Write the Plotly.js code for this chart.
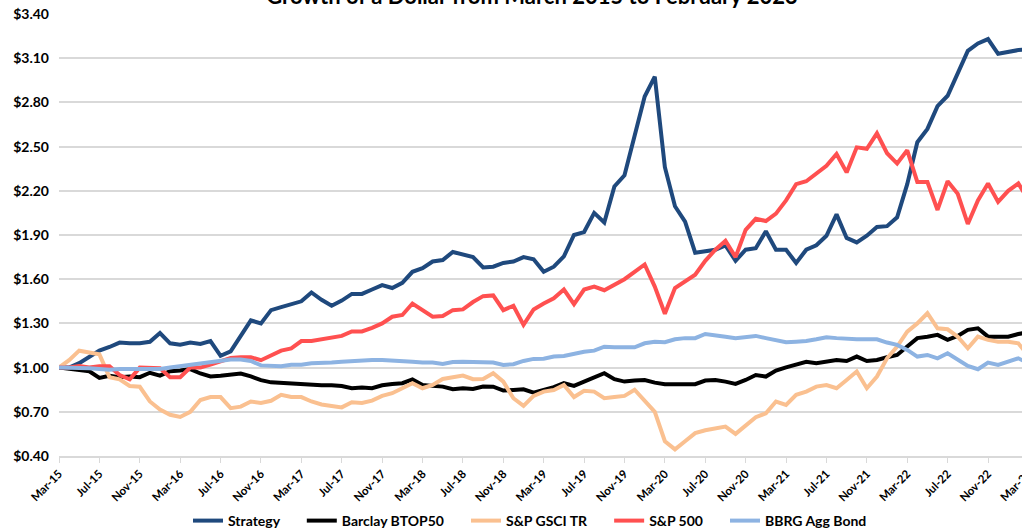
<!DOCTYPE html>
<html>
<head>
<meta charset="utf-8">
<script src="https://cdn.plot.ly/plotly-3.0.1.min.js"></script>
<style>
  html, body { margin: 0; padding: 0; overflow: hidden; background: #fff; }
  #chart { width: 1060px; height: 532px; }
</style>
</head>
<body>
<div id="chart"></div>
<script>
// ---- Categories (monthly, Mar-15 .. Mar-23) ----
const monthNames = ['Jan','Feb','Mar','Apr','May','Jun','Jul','Aug','Sep','Oct','Nov','Dec'];
const months = [];
for (let k = 0; k < 97; k++) {
  const m = (2 + k) % 12;
  const y = 15 + Math.floor((2 + k) / 12);
  months.push(monthNames[m] + '-' + y);
}
const tickLabels = months.filter((_, i) => i % 4 === 0);

// ---- Series values (growth of $1) ----
const strategy = [
  1.00,1.00,1.03,1.075,1.115,1.14,1.17,1.165,1.165,1.175,1.235,1.165,1.155,1.17,1.16,1.18,
  1.08,1.11,1.22,1.32,1.30,1.39,1.41,1.43,1.45,1.51,1.46,1.42,1.455,1.50,1.50,1.53,
  1.56,1.54,1.575,1.65,1.675,1.72,1.73,1.785,1.765,1.75,1.68,1.685,1.71,1.72,1.75,1.735,
  1.65,1.685,1.755,1.90,1.92,2.05,1.985,2.23,2.305,2.56,2.84,2.975,2.36,2.095,1.99,1.78,
  1.79,1.80,1.83,1.725,1.80,1.81,1.925,1.80,1.80,1.71,1.80,1.83,1.895,2.04,1.88,1.85,
  1.895,1.955,1.96,2.02,2.245,2.53,2.62,2.775,2.845,3.00,3.15,3.20,3.23,3.13,3.145,3.155,
  3.16
];
const btop50 = [
  1.00,0.99,0.98,0.975,0.93,0.945,0.935,0.94,0.935,0.965,0.945,0.975,0.98,0.99,0.96,0.94,
  0.945,0.955,0.96,0.94,0.915,0.90,0.895,0.89,0.89,0.88,0.88,0.88,0.875,0.86,0.865,0.86,
  0.88,0.889,0.894,0.92,0.882,0.876,0.871,0.853,0.86,0.855,0.871,0.87,0.844,0.848,0.853,0.83,
  0.848,0.867,0.894,0.876,0.905,0.932,0.962,0.921,0.905,0.912,0.916,0.898,0.887,0.887,0.887,0.887,
  0.912,0.916,0.905,0.889,0.916,0.95,0.939,0.98,1.002,1.018,1.04,1.029,1.04,1.052,1.045,1.075,
  1.045,1.052,1.07,1.086,1.143,1.20,1.21,1.222,1.188,1.215,1.256,1.267,1.21,1.21,1.21,1.228,
  1.24
];
const gsci = [
  1.00,1.05,1.115,1.10,1.09,0.935,0.92,0.875,0.87,0.77,0.715,0.68,0.665,0.70,0.78,0.80,
  0.80,0.725,0.735,0.77,0.76,0.775,0.815,0.80,0.80,0.77,0.75,0.74,0.73,0.765,0.76,0.776,
  0.808,0.826,0.86,0.894,0.86,0.882,0.923,0.934,0.946,0.921,0.923,0.962,0.905,0.792,0.74,0.808,
  0.837,0.848,0.882,0.80,0.842,0.837,0.792,0.80,0.808,0.85,0.77,0.70,0.50,0.445,0.50,0.555,
  0.575,0.585,0.60,0.55,0.61,0.663,0.69,0.77,0.747,0.815,0.837,0.871,0.882,0.86,0.916,0.973,
  0.86,0.939,1.063,1.143,1.244,1.30,1.369,1.267,1.26,1.21,1.131,1.21,1.188,1.176,1.176,1.165,
  1.08
];
const sp500 = [
  1.00,1.00,1.01,1.00,1.01,1.01,0.95,0.92,1.00,1.00,0.995,0.935,0.935,1.00,1.00,1.02,
  1.04,1.065,1.07,1.07,1.05,1.085,1.115,1.13,1.18,1.18,1.19,1.205,1.215,1.245,1.245,1.27,
  1.30,1.345,1.357,1.435,1.39,1.345,1.35,1.39,1.395,1.445,1.485,1.49,1.39,1.42,1.29,1.395,
  1.435,1.47,1.53,1.43,1.53,1.55,1.525,1.56,1.60,1.65,1.70,1.55,1.365,1.54,1.585,1.63,
  1.725,1.80,1.86,1.75,1.935,2.01,1.995,2.045,2.135,2.245,2.265,2.315,2.37,2.45,2.325,2.495,
  2.485,2.59,2.455,2.385,2.475,2.26,2.26,2.07,2.265,2.18,1.975,2.135,2.25,2.125,2.20,2.25,
  2.14
];
const aggBond = [
  1.00,1.00,1.00,0.995,0.99,0.985,0.99,0.99,0.995,0.99,0.99,1.00,1.01,1.02,1.025,1.035,
  1.05,1.055,1.055,1.045,1.015,1.01,1.01,1.02,1.02,1.03,1.03,1.035,1.04,1.045,1.05,1.052,
  1.052,1.05,1.047,1.04,1.034,1.034,1.025,1.038,1.04,1.04,1.04,1.034,1.018,1.023,1.045,1.059,
  1.06,1.075,1.079,1.097,1.108,1.115,1.142,1.138,1.138,1.138,1.165,1.176,1.172,1.192,1.20,1.20,
  1.228,1.222,1.21,1.20,1.21,1.215,1.20,1.188,1.172,1.176,1.18,1.192,1.206,1.20,1.195,1.192,
  1.192,1.192,1.17,1.154,1.12,1.075,1.086,1.063,1.097,1.052,1.011,0.989,1.034,1.018,1.04,1.063,
  1.03
];

const seriesNames = ['Strategy', 'Barclay BTOP50', 'S&P GSCI TR', 'S&P 500', 'BBRG Agg Bond'];
const seriesColors = ['#1f497d', '#000000', '#fac090', '#ff5050', '#8db3e2'];
const seriesData = [strategy, btop50, gsci, sp500, aggBond];

const FONT = 'Lato, "Open Sans", sans-serif';
const PAD = '\u00A0\u00A0\u00A0\u00A0\u00A0';

const traces = seriesData.map((vals, k) => ({
  type: 'scatter',
  mode: 'lines',
  x: months,
  y: vals,
  name: seriesNames[k] + (k < seriesNames.length - 1 ? PAD : ''),
  line: { color: seriesColors[k], width: 4 },
  hovertemplate: seriesNames[k] + ': %{y:$.2f}<extra></extra>'
}));

const layout = {
  width: 1060,
  height: 532,
  margin: { l: 59, r: 20, t: 14, b: 76 },
  paper_bgcolor: '#ffffff',
  plot_bgcolor: '#ffffff',
  font: { family: FONT, color: '#000000' },
  title: {
    text: '<b>Growth of a Dollar from March 2015 to February 2023</b>',
    font: { family: FONT, size: 22, color: '#000000' },
    x: 532 / 1060,
    xanchor: 'center',
    xref: 'container',
    yref: 'container',
    y: 1 - 4 / 532,
    yanchor: 'bottom'
  },
  xaxis: {
    type: 'category',
    range: [0, 981 / 10.098],
    tickmode: 'array',
    tickvals: tickLabels,
    ticktext: tickLabels,
    tickangle: -45,
    tickfont: { family: FONT, size: 11.5, color: '#000000', weight: 'bold' },
    showgrid: false,
    showline: true,
    linecolor: '#d9d9d9',
    linewidth: 1.5,
    ticks: 'outside',
    ticklen: 5,
    tickcolor: '#d9d9d9',
    tickwidth: 1,
    zeroline: false,
    fixedrange: true
  },
  yaxis: {
    range: [0.40, 3.40],
    tick0: 0.40,
    dtick: 0.30,
    tickformat: '$.2f',
    tickfont: { family: FONT, size: 14, color: '#000000', weight: 'bold' },
    showgrid: true,
    gridcolor: '#d9d9d9',
    gridwidth: 1.5,
    zeroline: false,
    showline: false,
    ticks: '',
    ticklabelstandoff: 9,
    fixedrange: true
  },
  showlegend: true,
  legend: {
    orientation: 'h',
    xref: 'container',
    yref: 'container',
    x: 530 / 1060,
    xanchor: 'center',
    y: (532 - 521) / 532,
    yanchor: 'middle',
    font: { family: FONT, size: 14, color: '#000000', weight: 'bold' },
    itemwidth: 30,
    traceorder: 'normal'
  }
};

Plotly.newPlot('chart', traces, layout, { displayModeBar: false, responsive: false });
</script>
</body>
</html>
